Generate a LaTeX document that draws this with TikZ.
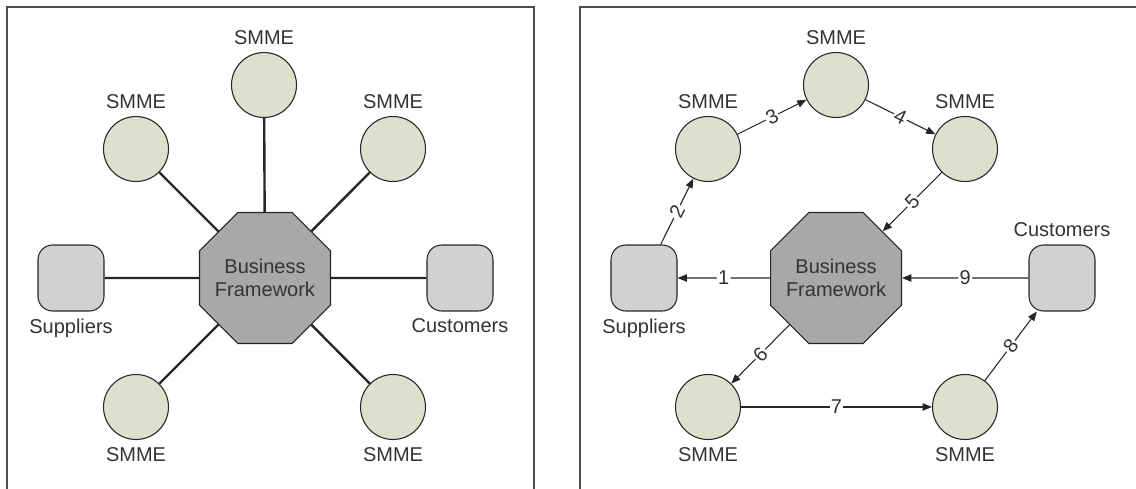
\documentclass[tikz,border=0pt]{standalone}
\usepackage{fontspec}
\setmainfont{Liberation Sans}
\usepackage{xcolor}
\definecolor{smmefill}{HTML}{DCE0CC}
\definecolor{partyfill}{HTML}{D1D1D1}
\definecolor{hubfill}{HTML}{A8A8A8}
\definecolor{edgegray}{HTML}{262626}
\definecolor{framegray}{HTML}{4D4D4D}
\definecolor{textgray}{HTML}{333333}
\usepackage{tikz}
\usetikzlibrary{shapes.geometric, arrows.meta}

\begin{document}
\begin{tikzpicture}[
  x=0.75pt, y=-0.75pt,
  font=\fontsize{15}{17}\selectfont, text=textgray, label distance=2pt,
  smme/.style={circle, draw=edgegray, fill=smmefill, thick, minimum size=48.75pt, inner sep=0pt},
  party/.style={rectangle, rounded corners=11pt, draw=edgegray, fill=partyfill, thick,
    minimum size=49.5pt, inner sep=0pt},
  hub/.style={regular polygon, regular polygon sides=8, draw=edgegray, fill=hubfill, thick,
    minimum size=106.3pt, inner sep=-8pt, align=center},
  frame/.style={draw=framegray, line width=1.3pt},
  spoke/.style={line width=1.8pt, draw=edgegray},
  arrow/.style={-{Triangle[length=7pt, width=5.5pt]}, line width=0.8pt, draw=edgegray},
  numlbl/.style={fill=white, inner sep=1pt, midway, sloped}
]
\useasboundingbox (0,0) rectangle (1136,489);
\draw[frame] (7,495) -- (7,7) -- (534,7) -- (534,495);
\draw[frame] (580,495) -- (580,7) -- (1140,7);

\node[hub] (f1) at (265,278) {Business\\Framework};
\node[smme, label=above:SMME] (l1) at (136,149) {};
\node[smme, label=above:SMME] (l2) at (264,85) {};
\node[smme, label=above:SMME] (l3) at (393,149) {};
\node[smme, label=below:SMME] (l4) at (136,407) {};
\node[smme, label=below:SMME] (l5) at (393,407) {};
\node[party, label=below:Suppliers] (sup1) at (71,278) {};
\node[party, label=below:Customers] (cus1) at (460,278) {};
\draw[spoke] (f1)--(l1); \draw[spoke] (f1)--(l2); \draw[spoke] (f1)--(l3); \draw[spoke] (f1)--(l4);
\draw[spoke] (f1)--(l5); \draw[spoke] (f1)--(sup1); \draw[spoke] (f1)--(cus1);

\node[hub] (f2) at (836,278) {Business\\Framework};
\node[smme, label=above:SMME] (r1) at (708,149) {};
\node[smme, label=above:SMME] (r2) at (836,85) {};
\node[smme, label=above:SMME] (r3) at (965,149) {};
\node[smme, label=below:SMME] (r4) at (708,407) {};
\node[smme, label=below:SMME] (r5) at (965,407) {};
\node[party, label=below:Suppliers] (sup2) at (644,278) {};
\node[party, label=above:Customers] (cus2) at (1062,278) {};
\draw[arrow] (f2)--node[numlbl]{1}(sup2); \draw[arrow] (sup2)--node[numlbl]{2}(r1);
\draw[arrow] (r1)--node[numlbl]{3}(r2); \draw[arrow] (r2)--node[numlbl]{4}(r3);
\draw[arrow] (r3)--node[numlbl]{5}(f2); \draw[arrow] (f2)--node[numlbl]{6}(r4);
\draw[arrow] (r4)--node[numlbl]{7}(r5); \draw[arrow] (r5)--node[numlbl]{8}(cus2);
\draw[arrow] (cus2)--node[numlbl]{9}(f2);
\end{tikzpicture}
\end{document}
